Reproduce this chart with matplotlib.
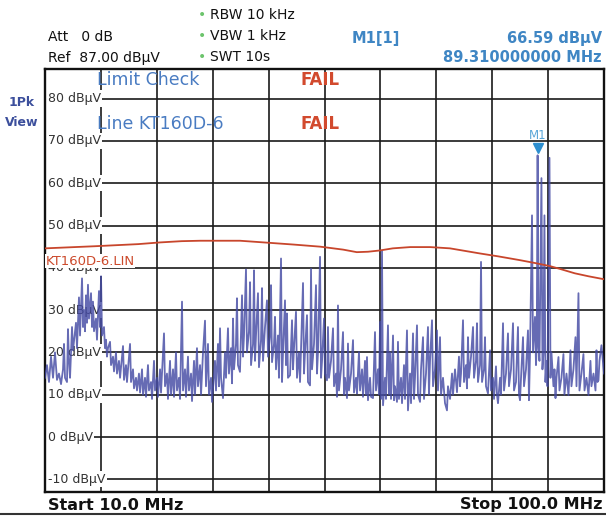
import matplotlib
matplotlib.use("Agg")
import matplotlib.pyplot as plt
from matplotlib.lines import Line2D

W, H = 606, 516

# axis setup (MHz, dBuV)
f_start, f_stop = 10.0, 100.0
ref_level, bottom_level = 87.0, -13.0
freq_grid = [10, 19, 28, 37, 46, 55, 64, 73, 82, 91, 100]
level_ticks = [80, 70, 60, 50, 40, 30, 20, 10, 0, -10]
level_labels = ["80 dBµV", "70 dBµV", "60 dBµV", "50 dBµV", "40 dBµV",
                "30 dBµV", "20 dBµV", "10 dBµV", "0 dBµV", "-10 dBµV"]

# limit line KT160D-6
limit_mhz = [10, 18, 25, 28.5, 32, 35, 41.4, 46.2, 50, 54.3, 58, 60.2, 62, 63.9,
             66, 68.8, 72, 75.2, 78, 80, 83, 86.5, 89, 91.3, 93, 95.3, 97.5, 100]
limit_dbuv = [44.6, 45.1, 45.6, 46.0, 46.3, 46.4, 46.4, 45.9, 45.5, 45.0, 44.3, 43.7,
              43.8, 44.1, 44.6, 44.9, 44.9, 44.6, 43.9, 43.4, 42.7, 41.8, 41.1, 40.4,
              39.7, 38.7, 38.0, 37.3]

# 1Pk trace
trace_mhz = [
    10.00, 10.32, 10.64, 10.97, 11.29, 11.61, 11.93, 12.25, 12.58, 12.90,
    13.06, 13.22, 13.54, 13.70, 13.86, 14.03, 14.35, 14.51, 14.99, 15.15,
    15.47, 15.64, 15.96, 16.12, 16.28, 16.44, 16.60, 16.76, 16.92, 17.08,
    17.41, 17.57, 17.73, 17.89, 18.21, 18.37, 18.69, 18.86, 19.02, 19.18,
    19.50, 19.66,
    19.82, 19.98, 20.14, 20.47, 20.63, 20.95, 21.11, 21.43, 21.59, 21.91,
    22.08, 22.56, 22.72, 23.04, 23.20, 23.69, 23.85, 24.17, 24.33, 24.65,
    24.81,
    25.13, 25.30, 25.62, 25.78, 26.10, 26.26, 26.58, 26.74, 27.07, 27.23,
    27.55, 27.71, 28.03, 28.19, 28.52, 28.68, 29.00, 29.16, 29.32, 29.64,
    29.80, 30.13, 30.29, 30.61, 30.77, 31.09, 31.25, 31.57, 31.74, 32.06,
    32.22, 32.54, 32.70, 33.02, 33.18, 33.51, 33.67, 33.99, 34.15, 34.47,
    34.63, 34.96, 35.12, 35.44, 35.76, 35.92, 36.24, 36.40, 36.73, 36.89,
    37.37, 37.53, 37.85, 38.01, 38.18, 38.34, 38.66, 38.98, 39.14, 39.46,
    39.62, 39.95, 40.11, 40.27, 40.43, 40.75, 40.91, 41.07, 41.39, 41.72,
    41.88, 42.04, 42.36, 42.52, 42.84, 43.01, 43.17, 43.49, 43.65, 43.81,
    43.97, 44.29, 44.45, 44.78, 44.94, 45.10, 45.42, 45.74, 45.90, 46.23,
    46.39, 46.55, 46.87, 47.03, 47.19, 47.51, 47.67, 48.00, 48.16, 48.32,
    48.64, 48.80, 48.96, 49.12, 49.45, 49.77, 49.93, 50.09, 50.41, 50.57,
    50.89, 51.06,
    51.54, 51.70, 51.86, 52.18, 52.34, 52.67, 52.83, 52.99, 53.31, 53.63,
    53.79, 53.95, 54.28, 54.44, 54.60, 54.92, 55.08, 55.40, 55.56, 55.72,
    56.05, 56.37, 56.53, 56.85, 57.01, 57.17, 57.33, 57.66, 57.98, 58.14,
    58.30, 58.62, 58.78, 58.94, 59.27, 59.59, 59.75, 60.07, 60.23, 60.55,
    60.72, 61.04, 61.20, 61.52, 61.68, 61.84, 62.00, 62.33, 62.49, 62.81,
    63.13, 63.29, 63.61, 63.77, 63.94, 64.10, 64.26, 64.42,
    64.74, 64.90, 65.22, 65.38, 65.55, 65.71, 66.03, 66.19, 66.35, 66.67,
    66.83, 66.99, 67.32, 67.48, 67.80, 67.96, 68.28, 68.44, 68.77, 68.93,
    69.25, 69.41, 69.57, 69.89, 70.05, 70.38, 70.54, 70.86, 71.02, 71.34,
    71.66, 71.82, 71.99, 72.31, 72.47, 72.79, 73.11, 73.27, 73.60, 73.76,
    74.08, 74.40, 74.72, 74.88, 75.21, 75.53, 75.69, 76.01, 76.33, 76.65,
    76.82, 76.98,
    77.30, 77.46, 77.78, 77.94, 78.10, 78.26, 78.59, 78.91, 79.07, 79.39,
    79.55, 79.71, 80.04, 80.20, 80.36, 80.68, 80.84, 81.00, 81.32, 81.65,
    81.81, 82.13, 82.29, 82.61, 82.77, 82.93, 83.26, 83.42, 83.74, 83.90,
    84.22, 84.54, 84.70, 85.03, 85.35, 85.51, 85.83, 86.15, 86.31, 86.48,
    86.64, 86.96, 87.12, 87.44, 87.76, 87.92, 88.09, 88.41, 88.57, 88.89,
    89.05, 89.17, 89.31, 89.45, 89.61, 89.93, 90.09, 90.25, 90.41, 90.57,
    90.74, 90.90, 91.22, 91.38,
    91.54, 91.86, 92.03, 92.19, 92.35, 92.67, 92.83, 93.15, 93.47, 93.63,
    93.96, 94.28, 94.60, 94.76, 95.08, 95.41, 95.57, 95.89, 96.05, 96.37,
    96.69, 96.86, 97.18, 97.50, 97.82, 97.98, 98.31, 98.63, 98.79, 98.95,
    99.11, 99.27, 99.59, 100.00,
]
trace_dbuv = [
    14, 17, 13, 19, 14, 20, 13.5, 15, 12.5, 16,
    22, 14, 13, 25.5, 18, 14, 26, 20.5, 27, 21,
    33, 24, 37.5, 26, 30, 25, 33.5, 27, 36, 28,
    34, 26, 32, 25, 28, 23, 34.5, 26, 38, 24,
    26, 21,
    23, 19, 21, 22.5, 17, 19, 15.5, 20, 15, 18,
    14, 21.5, 13.5, 17, 13, 22, 13, 16, 11.5, 14,
    11,
    15, 10.5, 16, 10, 14, 9.5, 17, 11, 13, 9,
    18, 11, 14, 9.5, 16, 10.5, 20, 24.5, 12, 15,
    9, 18, 10, 16, 9.5, 20, 11, 14, 9, 32,
    11, 16, 9.5, 19, 11, 15, 8.5, 18, 10, 21,
    12, 17, 10, 20, 27.5, 12, 22, 10, 14, 8.3,
    18, 11, 22, 12, 25.7, 14, 9.2, 20, 14, 25.7,
    15, 21, 12.7, 28, 16, 22, 32.8, 17, 15.4, 33.5,
    19, 24, 39.6, 20, 25, 36.6, 17, 22, 39.4, 18,
    24, 34, 16.5, 23, 35.2, 18, 26, 32.3, 19, 24,
    35.9, 17.7, 22, 28.4, 16, 24, 14, 42.2, 13, 20,
    32.3, 17, 29.2, 14, 14.6, 27.6, 16, 21, 29.6, 14,
    20, 13,
    36.4, 15, 20, 28.8, 13, 12.2, 39.8, 16, 22, 35.9,
    15, 20, 42.6, 14, 18, 28, 15, 13.4, 26, 14,
    18, 25.7, 12, 15, 9.5, 31.1, 11, 16, 24.8, 10,
    14, 9.2, 22.1, 11, 15, 22.9, 10.5, 14, 10.3, 20.1,
    11, 16, 9.5, 18, 10, 18.9, 8.7, 14, 9.5, 9.2,
    24.8, 11, 16, 10, 27.2, 9, 44, 7.5,
    14, 9, 26.4, 10, 20, 9, 24, 8.7, 12, 8.3,
    22.5, 9, 14, 8, 17, 9, 25.2, 6.3, 15, 8,
    24.5, 9, 14, 26.4, 10, 8.3, 16, 23.6, 9, 15,
    26, 10, 18, 27.6, 12, 16, 25.2, 11, 23.6, 10,
    14, 8, 6.3, 12, 9, 15, 10, 16, 10.6, 19,
    12, 15,
    27.6, 13, 17, 11.5, 23.6, 14, 19, 26, 14, 18,
    26.9, 13, 17, 41.4, 13, 16, 23.6, 12, 10.3, 20.5,
    11, 14, 9, 16.7, 10, 8, 14, 10, 26.9, 11,
    15, 24.5, 12, 16, 26.9, 11, 13, 26, 10, 8.7,
    14, 23.6, 12, 16, 25.2, 8.7, 20, 52.4, 20, 28.4,
    17, 22, 66.59, 21, 18, 61.2, 16, 20, 52.4, 13,
    18, 12, 66, 14,
    20, 12, 16, 9.2, 14, 18.9, 11, 14, 19.6, 10,
    15, 9.9, 20.5, 12, 16, 23.6, 12, 34, 11, 15,
    19.6, 11, 14, 9.9, 18, 12, 15, 11, 20.5, 13,
    13.4, 18, 21.7, 15,
]

marker_mhz, marker_dbuv = 89.31, 66.59

fig = plt.figure(figsize=(W / 100, H / 100), dpi=100)
ax = fig.add_axes([45 / W, 24 / H, 559 / W, 423 / H])
ax.set_xlim(f_start, f_stop)
ax.set_ylim(bottom_level, ref_level)

ax.set_xticks(freq_grid)
ax.set_yticks(level_ticks)
ax.tick_params(length=0, labelbottom=False, labelleft=False)
ax.grid(True, color="#1a1a1a", lw=1.2, zorder=0)
for s in ax.spines.values():
    s.set_color("#111111")
    s.set_linewidth(1.7)

# level labels sit inside the plot on white boxes
for y, lab in zip(level_ticks, level_labels):
    ax.text(10.45, y, lab, ha="left", va="center", fontsize=9, color="#333333",
            bbox=dict(facecolor="white", edgecolor="none", pad=1.2), zorder=2)

ax.plot(trace_mhz, trace_dbuv, color="#444aa4", lw=1.3, alpha=0.82, zorder=4)
ax.plot(limit_mhz, limit_dbuv, color="#c8462c", lw=1.3, zorder=5)
ax.text(10.1, 41.6, "KT160D-6.LIN", ha="left", va="center", fontsize=9.5, color="#cc4a2c",
        bbox=dict(facecolor="white", edgecolor="none", pad=0.5), zorder=3)

ax.plot([marker_mhz], [marker_dbuv + 1.8], marker="v", ms=7, color="#2d8fd0", zorder=6)
ax.text(marker_mhz, marker_dbuv + 4.6, "M1", ha="center", va="center", fontsize=8.5,
        color="#5aa6d8", zorder=6)

ax.text(18.4, 84.3, "Limit Check", ha="left", va="center", fontsize=12.5, color="#4a7cc2", zorder=6)
ax.text(18.4, 73.9, "Line KT160D-6", ha="left", va="center", fontsize=12.5, color="#4a7cc2", zorder=6)
ax.text(51.2, 84.3, "FAIL", ha="left", va="center", fontsize=12, fontweight="bold", color="#d24a2e", zorder=6)
ax.text(51.2, 73.9, "FAIL", ha="left", va="center", fontsize=12, fontweight="bold", color="#d24a2e", zorder=6)

def ftext(x, y, s, **kw):
    fig.text(x / W, 1 - y / H, s, va="center", **kw)

ftext(48, 37, "Att   0 dB", fontsize=10, color="#111111")
ftext(48, 58, "Ref  87.00 dBµV", fontsize=10, color="#111111")
for y, s in zip([15, 36, 57], ["RBW 10 kHz", "VBW 1 kHz", "SWT 10s"]):
    ftext(198, y, "•", fontsize=10, color="#6cc46c")
    ftext(210, y, s, fontsize=10, color="#111111")
ftext(352, 38, "M1[1]", fontsize=10.5, fontweight="bold", color="#3f86c4")
ftext(602, 38, "66.59 dBµV", fontsize=10.5, fontweight="bold", color="#3f86c4", ha="right")
ftext(602, 57, "89.310000000 MHz", fontsize=10.5, fontweight="bold", color="#3f86c4", ha="right")
ftext(22, 103, "1Pk", fontsize=9, fontweight="bold", color="#3c4f9c", ha="center")
ftext(22, 122, "View", fontsize=9, fontweight="bold", color="#3c4f9c", ha="center")
ftext(48, 505, "Start 10.0 MHz", fontsize=11.5, fontweight="bold", color="#111111")
ftext(602, 505, "Stop 100.0 MHz", fontsize=11.5, fontweight="bold", color="#111111", ha="right")
fig.add_artist(Line2D([0, 1], [1 - 514 / H, 1 - 514 / H], transform=fig.transFigure,
                      color="#333333", lw=1.5))

fig.savefig("out.png", dpi=100)
